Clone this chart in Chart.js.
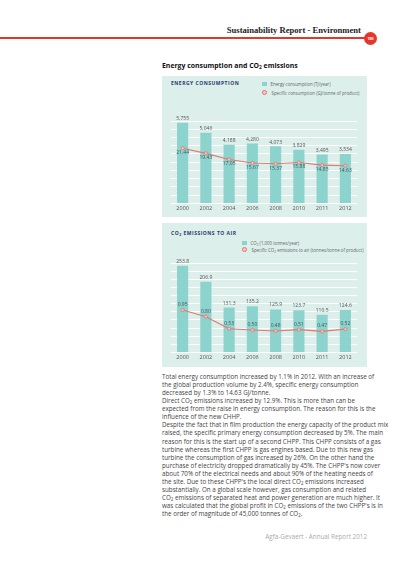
<!DOCTYPE html>
<html>
<head>
<meta charset="utf-8">
<script src="https://cdn.jsdelivr.net/npm/chart.js@4"></script>
<style>
  html, body { margin: 0; padding: 0; background: #fff; }
  body { width: 400px; height: 566px; position: relative; overflow: hidden; font-family: "Open Sans", sans-serif; }
  .abs { position: absolute; }
  #head { right: 39px; top: 25px; font: bold 8.6px "Liberation Serif", serif; color: #222; white-space: nowrap; }
  #redline { left: 0; top: 37px; width: 366px; height: 1.5px; background: #e4362a; }
  #badge { left: 364px; top: 31.5px; width: 13px; height: 13px; border-radius: 50%; background: #e4362a; color: #fff; font: bold 3.6px "Open Sans", sans-serif; text-align: center; line-height: 13px; }
  #sect { left: 162px; top: 61px; font: bold 6.9px "Open Sans", sans-serif; color: #111; white-space: nowrap; }
  .panel { position: absolute; left: 162px; width: 205px; background: #dcefeb; }
  .ptitle { position: absolute; left: 9px; font: bold 5px "Open Sans", sans-serif; color: #2b3a6e; letter-spacing: 0.5px; white-space: nowrap; }
  .leg { position: absolute; font: 4.4px "Open Sans", sans-serif; color: #666; white-space: nowrap; }
  .leg span.sq { display: inline-block; width: 4.5px; height: 4.5px; background: #8dd3cd; margin-right: 4px; vertical-align: -0.5px; }
  .leg span.dot { display: inline-block; width: 2.6px; height: 2.6px; border-radius: 50%; background: #f6c3bf; border: 0.8px solid #e2776f; margin-right: 4.5px; margin-left: 0.4px; vertical-align: 0px; }
  canvas { position: absolute; }
  #txt { left: 162px; top: 373px; font: 6.25px "Open Sans", sans-serif; line-height: 8.06px; color: #444; white-space: nowrap; }
  #foot { right: 33px; top: 532px; font: 6.3px "Open Sans", sans-serif; color: #aaa; white-space: nowrap; }
  sub { font-size: 70%; vertical-align: -1px; line-height: 0; }
</style>
</head>
<body>
<div id="head" class="abs">Sustainability Report - Environment</div>
<div id="redline" class="abs"></div>
<div id="badge" class="abs">180</div>
<div id="sect" class="abs">Energy consumption and CO<sub>2</sub> emissions</div>

<div class="panel" style="top:76px;height:141px;">
  <div class="ptitle" style="top:4px;">ENERGY CONSUMPTION</div>
  <div class="leg" style="left:100px;top:4.5px;"><span class="sq"></span>Energy consumption (TJ/year)</div>
  <div class="leg" style="left:100px;top:13.5px;"><span class="dot"></span>Specific consumption (GJ/tonne of product)</div>
</div>
<div class="panel" style="top:223px;height:144px;">
  <div class="ptitle" style="top:7px;">CO<sub>2</sub> EMISSIONS TO AIR</div>
  <div class="leg" style="left:80px;top:16.5px;"><span class="sq"></span>CO<sub>2</sub> (1,000 tonnes/year)</div>
  <div class="leg" style="left:80px;top:23.5px;"><span class="dot"></span>Specific CO<sub>2</sub> emissions to air (tonnes/tonne of product)</div>
</div>

<canvas id="energyChart" style="left:162px;top:112px;width:205px;height:102px;" width="205" height="102"></canvas>
<canvas id="co2Chart" style="left:162px;top:255px;width:205px;height:108px;" width="205" height="108"></canvas>

<div id="txt" class="abs">
Total energy consumption increased by 1.1% in 2012. With an increase of<br>
the global production volume by 2.4%, specific energy consumption<br>
decreased by 1.3% to 14.63 GJ/tonne.<br>
Direct CO<sub>2</sub> emissions increased by 12.9%. This is more than can be<br>
expected from the raise in energy consumption. The reason for this is the<br>
influence of the new CHHP.<br>
Despite the fact that in film production the energy capacity of the product mix<br>
raised, the specific primary energy consumption decreased by 5%. The main<br>
reason for this is the start up of a second CHPP. This CHPP consists of a gas<br>
turbine whereas the first CHPP is gas engines based. Due to this new gas<br>
turbine the consumption of gas increased by 26%. On the other hand the<br>
purchase of electricity dropped dramatically by 45%. The CHPP's now cover<br>
about 70% of the electrical needs and about 90% of the heating needs of<br>
the site. Due to these CHPP's the local direct CO<sub>2</sub> emissions increased<br>
substantially. On a global scale however, gas consumption and related<br>
CO<sub>2</sub> emissions of separated heat and power generation are much higher. It<br>
was calculated that the global profit in CO<sub>2</sub> emissions of the two CHPP's is in<br>
the order of magnitude of 45,000 tonnes of CO<sub>2</sub>.
</div>
<div id="foot" class="abs">Agfa-Gevaert - Annual Report 2012</div>

<script>
const years = ['2000', '2002', '2004', '2006', '2008', '2010', '2011', '2012'];
const energyTJ = [5755, 5046, 4188, 4280, 4073, 3829, 3495, 3534];
const specificEnergy = [21.44, 19.43, 17.05, 15.67, 15.37, 15.88, 14.85, 14.63];
const co2Kt = [253.8, 206.9, 131.3, 135.2, 125.9, 123.7, 110.5, 124.6];
const specificCo2 = [0.95, 0.80, 0.53, 0.50, 0.48, 0.51, 0.47, 0.52];

const barColor = '#8dd3cd';
const lineColor = '#e2776f';

// draws the value labels next to bars and points
const valueLabels = {
  id: 'valueLabels',
  afterDatasetsDraw(chart) {
    const ctx = chart.ctx;
    chart.data.datasets.forEach((ds, i) => {
      const meta = chart.getDatasetMeta(i);
      ctx.save();
      ctx.font = '5px "Open Sans", sans-serif';
      ctx.textAlign = 'center';
      ctx.textBaseline = 'middle';
      ctx.fillStyle = ds.labelColor;
      meta.data.forEach((el, j) => {
        ctx.fillText(ds.fmt(ds.data[j]), el.x, el.y + ds.labelOffset);
      });
      ctx.restore();
    });
  }
};

function makeChart(id, bars, line, opts) {
  return new Chart(document.getElementById(id), {
    type: 'bar',
    data: {
      labels: years,
      datasets: [{
        type: 'line',
        data: line,
        yAxisID: 'y2',
        borderColor: lineColor,
        borderWidth: 1.1,
        pointRadius: 1.6,
        pointBackgroundColor: '#f6c3bf',
        pointBorderColor: lineColor,
        pointBorderWidth: 0.8,
        tension: 0,
        order: 0,
        labelColor: '#3b5766',
        labelOffset: opts.lineOffset,
        fmt: v => v.toFixed(2)
      }, {
        data: bars,
        backgroundColor: barColor,
        categoryPercentage: 1,
        barPercentage: 0.48,
        order: 1,
        labelColor: '#555',
        labelOffset: opts.barOffset,
        fmt: opts.barFmt
      }]
    },
    options: {
      responsive: false,
      animation: false,
      layout: { padding: { left: 9, right: 10, top: opts.padTop, bottom: 0 } },
      plugins: { legend: { display: false }, tooltip: { enabled: false } },
      scales: {
        x: {
          grid: { display: false, drawTicks: false },
          border: { display: false },
          ticks: { color: '#555', padding: 2, font: { size: 5.5, family: 'Open Sans' } }
        },
        y: {
          min: 0, max: opts.yMax,
          grid: { color: '#ffffff', lineWidth: 1, drawTicks: false },
          border: { display: false },
          ticks: { display: false, count: 11 + opts.extraGrid }
        },
        y2: { display: false, min: 0, max: opts.y2Max }
      }
    },
    plugins: [valueLabels]
  });
}

makeChart('energyChart', energyTJ, specificEnergy, {
  yMax: 5880, y2Max: 32, padTop: 9, extraGrid: 0,
  lineOffset: 4.5, barOffset: -4,
  barFmt: v => v.toLocaleString('en-US')
});

makeChart('co2Chart', co2Kt, specificCo2, {
  yMax: 262, y2Max: 2.0, padTop: 8, extraGrid: 1,
  lineOffset: -5.5, barOffset: -4.5,
  barFmt: v => v.toFixed(1)
});
</script>
</body>
</html>
